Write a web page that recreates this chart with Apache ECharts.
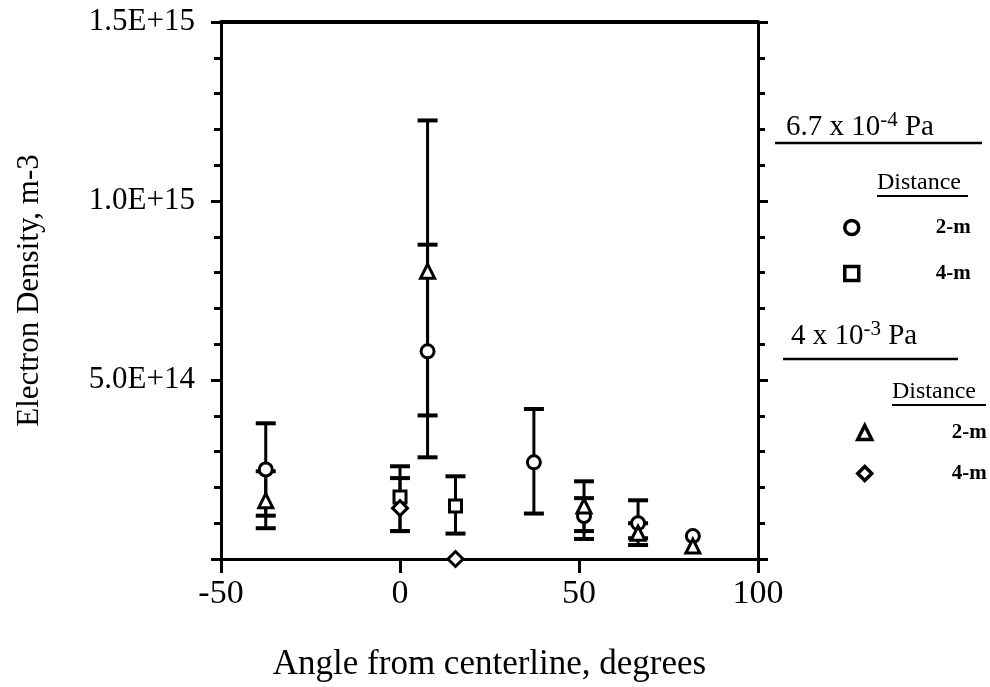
<!DOCTYPE html>
<html>
<head>
<meta charset="utf-8">
<script src="https://cdn.jsdelivr.net/npm/echarts@6/dist/echarts.min.js"></script>
<style>html,body{margin:0;padding:0;background:#fff;}#c{width:990px;height:687px;}</style>
</head>
<body>
<div id="c"></div>
<script>
// ---- data ----
const xTicks = [-50, 0, 50, 100];
const yTickLabels = {5e14: '5.0E+14', 1e15: '1.0E+15', 1.5e15: '1.5E+15'};

// 6.7 x 10^-4 Pa, 2-m (circle)
const c2mX  = [-37.5, 7.7, 37.4, 51.4, 66.5, 81.8];
const c2mY  = [2.5e14, 5.8e14, 2.7e14, 1.2e14, 1.0e14, 0.64e14];
const c2mLo = [1.21e14, 2.84e14, 1.27e14, 0.56e14, 0.58e14, 0.64e14];
const c2mHi = [3.79e14, 12.25e14, 4.19e14, 1.70e14, 1.64e14, 0.64e14];
// 6.7 x 10^-4 Pa, 4-m (square)
const s4mX  = [0, 15.5];
const s4mY  = [1.73e14, 1.48e14];
const s4mLo = [0.78e14, 0.71e14];
const s4mHi = [2.59e14, 2.31e14];
// 4 x 10^-3 Pa, 2-m (triangle)
const t2mX  = [-37.5, 7.7, 51.4, 66.5, 81.8];
const t2mY  = [1.63e14, 8.04e14, 1.48e14, 0.72e14, 0.36e14];
const t2mLo = [0.86e14, 4.01e14, 0.78e14, 0.39e14, 0.36e14];
const t2mHi = [2.45e14, 8.78e14, 2.17e14, 1.0e14, 0.36e14];
// 4 x 10^-3 Pa, 4-m (diamond)
const d4mX  = [0, 15.5];
const d4mY  = [1.42e14, 0];
const d4mLo = [0.78e14, 0];
const d4mHi = [2.26e14, 0];

const groups = [
  {name: 'a|2-m', sym: 'circle',   size: 13, x: c2mX, y: c2mY, lo: c2mLo, hi: c2mHi},
  {name: 'a|4-m', sym: 'rect',     size: 12, x: s4mX, y: s4mY, lo: s4mLo, hi: s4mHi},
  {name: 'b|2-m', sym: 'triangle', size: 14, x: t2mX, y: t2mY, lo: t2mLo, hi: t2mHi},
  {name: 'b|4-m', sym: 'diamond',  size: 15, x: d4mX, y: d4mY, lo: d4mLo, hi: d4mHi}
];

const serif = '"Liberation Serif", "Times New Roman", serif';
const errData = [];
groups.forEach(g => g.x.forEach((x, i) => errData.push([x, g.lo[i], g.hi[i]])));

const series = [{
  type: 'custom',
  name: 'err',
  z: 1,
  clip: false,
  data: errData,
  encode: {x: 0, y: [1, 2]},
  renderItem: function (params, api) {
    const x = api.value(0), lo = api.value(1), hi = api.value(2);
    if (lo === hi) return {type: 'group', children: []};
    const pl = api.coord([x, lo]), ph = api.coord([x, hi]);
    const hw = 10;
    const st = {stroke: '#000', lineWidth: 3};
    const cs = {stroke: '#000', lineWidth: 4};
    return {type: 'group', children: [
      {type: 'line', shape: {x1: pl[0], y1: pl[1], x2: ph[0], y2: ph[1]}, style: st},
      {type: 'line', shape: {x1: pl[0] - hw, y1: pl[1], x2: pl[0] + hw, y2: pl[1]}, style: cs},
      {type: 'line', shape: {x1: ph[0] - hw, y1: ph[1], x2: ph[0] + hw, y2: ph[1]}, style: cs}
    ]};
  }
}];
groups.forEach(g => series.push({
  type: 'scatter',
  name: g.name,
  symbol: g.sym,
  symbolSize: g.size,
  z: 3,
  clip: false,
  itemStyle: {color: '#fff', borderColor: '#000', borderWidth: 3, opacity: 1},
  data: g.x.map((x, i) => [x, g.y[i]])
}));

const chart = echarts.init(document.getElementById('c'), null, {renderer: 'canvas'});
const legendCommon = {
  orient: 'vertical',
  itemWidth: 14, itemHeight: 14,
  selectedMode: false,
  formatter: n => n.split('|')[1],
  textStyle: {fontFamily: serif, fontWeight: 'bold', fontSize: 21, color: '#000', lineHeight: 20},
  itemStyle: {color: '#fff', borderColor: '#000', borderWidth: 3.5}
};
chart.setOption({
  backgroundColor: '#fff',
  animation: false,
  grid: {left: 221, right: 232, top: 22, bottom: 127, containLabel: false},
  xAxis: [{
    type: 'value', min: -50, max: 100, interval: 50,
    name: 'Angle from centerline, degrees', nameLocation: 'middle', nameGap: 88,
    nameTextStyle: {fontFamily: serif, fontSize: 35, color: '#000'},
    axisLine: {show: true, onZero: false, lineStyle: {color: '#000', width: 3}},
    axisTick: {show: true, length: 14, lineStyle: {color: '#000', width: 3}},
    axisLabel: {fontFamily: serif, fontSize: 34, color: '#000', margin: 18},
    splitLine: {show: false}
  }, {
    type: 'value', position: 'top', min: -50, max: 100,
    axisLine: {show: true, onZero: false, lineStyle: {color: '#000', width: 4}},
    axisTick: {show: false}, axisLabel: {show: false}, splitLine: {show: false}
  }],
  yAxis: [{
    type: 'value', min: 0, max: 1.5e15, interval: 5e14,
    name: 'Electron Density, m-3', nameLocation: 'middle', nameGap: 176, nameRotate: 90,
    nameTextStyle: {fontFamily: serif, fontSize: 31, color: '#000'},
    axisLine: {show: true, onZero: false, lineStyle: {color: '#000', width: 3}},
    axisTick: {show: true, length: 10, lineStyle: {color: '#000', width: 3}},
    minorTick: {show: true, splitNumber: 5, length: 7, lineStyle: {color: '#000', width: 3}},
    axisLabel: {fontFamily: serif, fontSize: 31, color: '#000', margin: 26,
      formatter: v => yTickLabels[v] || ''},
    splitLine: {show: false}
  }, {
    type: 'value', position: 'right', min: 0, max: 1.5e15, interval: 5e14,
    axisLine: {show: true, onZero: false, lineStyle: {color: '#000', width: 3}},
    axisTick: {show: true, length: 10, lineStyle: {color: '#000', width: 3}},
    minorTick: {show: true, splitNumber: 5, length: 7, lineStyle: {color: '#000', width: 3}},
    axisLabel: {show: false}, splitLine: {show: false}
  }],
  legend: [
    Object.assign({}, legendCommon, {left: 838, top: 212, itemGap: 25,
      data: ['a|2-m', 'a|4-m'].map(n => ({name: n})),
      textStyle: Object.assign({}, legendCommon.textStyle, {padding: [0, 0, 0, 72]})}),
    Object.assign({}, legendCommon, {left: 851, top: 417, itemGap: 20,
      data: ['b|2-m', 'b|4-m'].map(n => ({name: n})),
      textStyle: Object.assign({}, legendCommon.textStyle, {padding: [0, 0, 0, 75]})})
  ],
  graphic: [
    {type: 'text', left: 786, top: 110, style: {
      text: '{a|6.7 x 10}{s|-4}{a| Pa}',
      rich: {a: {fontFamily: serif, fontSize: 29, fill: '#000'},
             s: {fontFamily: serif, fontSize: 21, fill: '#000', padding: [0, 0, 14, 0]}}}},
    {type: 'line', shape: {x1: 775, y1: 143, x2: 982, y2: 143}, style: {stroke: '#000', lineWidth: 2.5}},
    {type: 'text', left: 877, top: 171, style: {text: 'Distance', font: '24px ' + serif, fill: '#000'}},
    {type: 'line', shape: {x1: 877, y1: 196, x2: 968, y2: 196}, style: {stroke: '#000', lineWidth: 2}},
    {type: 'text', left: 791, top: 319, style: {
      text: '{a|4 x 10}{s|-3}{a| Pa}',
      rich: {a: {fontFamily: serif, fontSize: 29, fill: '#000'},
             s: {fontFamily: serif, fontSize: 21, fill: '#000', padding: [0, 0, 14, 0]}}}},
    {type: 'line', shape: {x1: 783, y1: 359, x2: 958, y2: 359}, style: {stroke: '#000', lineWidth: 2.5}},
    {type: 'text', left: 892, top: 380, style: {text: 'Distance', font: '24px ' + serif, fill: '#000'}},
    {type: 'line', shape: {x1: 892, y1: 405, x2: 986, y2: 405}, style: {stroke: '#000', lineWidth: 2}}
  ],
  series: series
});
</script>
</body>
</html>
